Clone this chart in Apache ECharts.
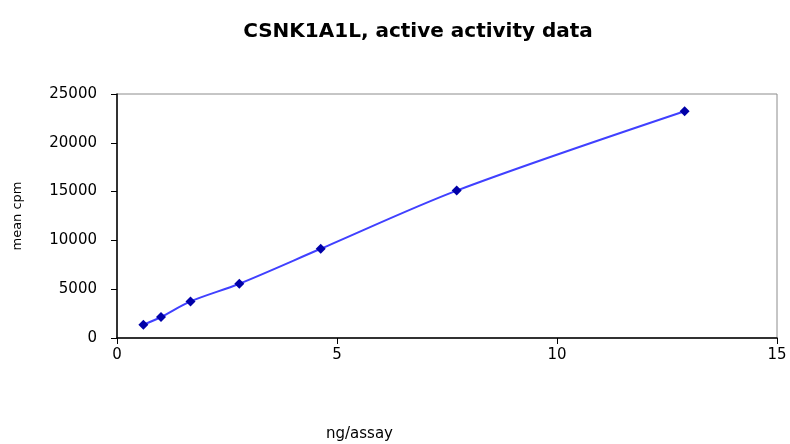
<!DOCTYPE html>
<html>
<head>
<meta charset="utf-8">
<script src="https://cdn.jsdelivr.net/npm/echarts@6/dist/echarts.min.js"></script>
<style>html,body{margin:0;padding:0;background:#fff}#c{width:790px;height:444px}</style>
</head>
<body>
<div id="c"></div>
<script>
const titleText = 'CSNK1A1L, active activity data';
const xName = 'ng/assay';
const yName = 'mean cpm';
const ngPerAssay = [0.6, 1.0, 1.67, 2.78, 4.63, 7.72, 12.9];
const meanCpm = [1360, 2150, 3750, 5560, 9140, 15100, 23230];
const xTicks = [0, 5, 10, 15];
const yTicks = [0, 5000, 10000, 15000, 20000, 25000];

const chart = echarts.init(document.getElementById('c'));
const fontFam = 'DejaVu Sans';
chart.setOption({
  animation: false,
  backgroundColor: '#fff',
  title: {
    text: titleText, left: 413, top: 17, textAlign: 'center',
    textStyle: { fontFamily: fontFam, fontWeight: 'bold', fontSize: 20, color: '#000' }
  },
  grid: { left: 117, right: 13, top: 94, bottom: 106, show: true, borderColor: '#8c8c8c', borderWidth: 1 },
  xAxis: {
    type: 'value', min: xTicks[0], max: xTicks[xTicks.length - 1], interval: 5,
    axisLine: { show: true, onZero: false, lineStyle: { color: '#000', width: 1.5 } },
    axisTick: { show: true, inside: false, length: 6, lineStyle: { color: '#000' } },
    axisLabel: { margin: 10, fontFamily: fontFam, fontSize: 15, color: '#000', formatter: v => String(v) },
    splitLine: { show: false }
  },
  yAxis: {
    type: 'value', min: yTicks[0], max: yTicks[yTicks.length - 1], interval: 5000,
    name: yName, nameLocation: 'middle', nameGap: 93, nameRotate: 90,
    nameTextStyle: { fontFamily: fontFam, fontSize: 13, color: '#000' },
    axisLine: { show: true, lineStyle: { color: '#000', width: 1.5 } },
    axisTick: { show: true, inside: false, length: 6, lineStyle: { color: '#000' } },
    axisLabel: { margin: 20, fontFamily: fontFam, fontSize: 15, color: '#000', formatter: v => String(v) },
    splitLine: { show: false }
  },
  graphic: [{
    type: 'text', left: 326, top: 427,
    style: { text: xName, font: '15px "DejaVu Sans"', fill: '#000' }
  }],
  series: [{
    type: 'line',
    data: ngPerAssay.map((x, i) => [x, meanCpm[i]]),
    smooth: 0.3,
    symbol: 'diamond', symbolSize: 10,
    itemStyle: { color: '#0000a8' },
    lineStyle: { color: '#4040ff', width: 2 }
  }]
});
</script>
</body>
</html>
